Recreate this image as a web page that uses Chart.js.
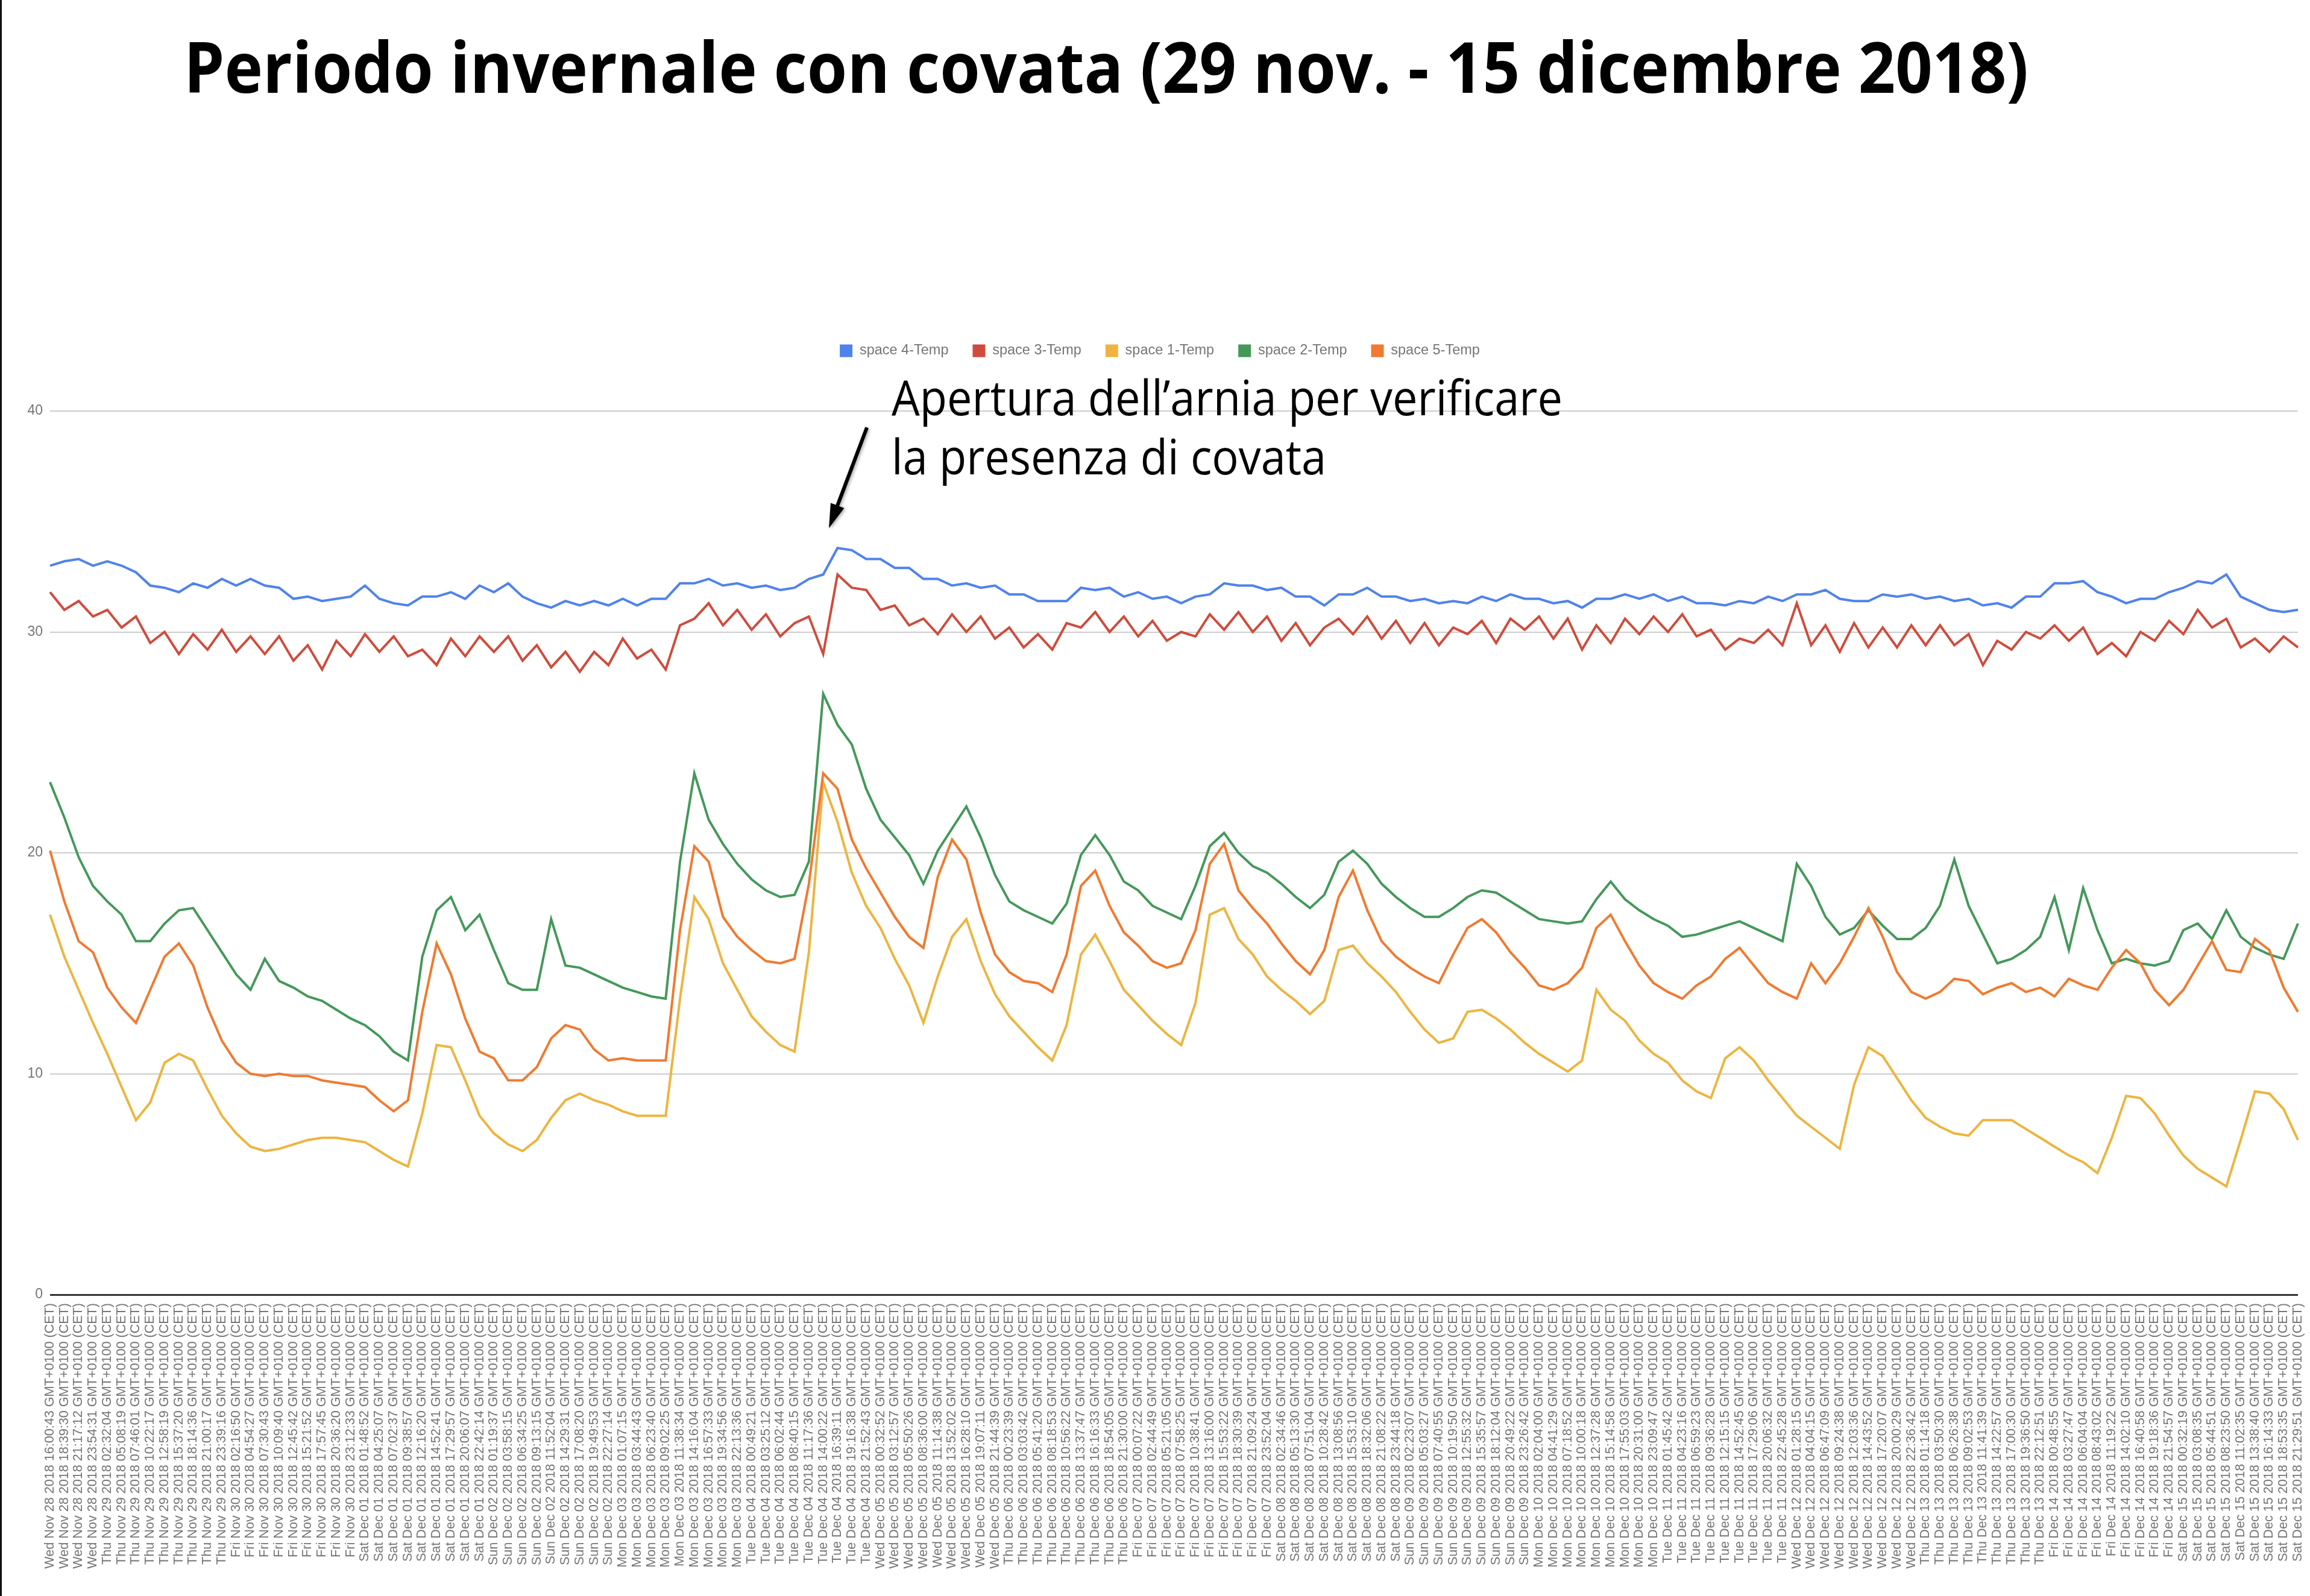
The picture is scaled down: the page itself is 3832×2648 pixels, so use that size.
<!DOCTYPE html>
<html>
<head>
<meta charset="utf-8">
<title>Periodo invernale con covata</title>
<script src="https://cdn.jsdelivr.net/npm/chart.js@4.4.1/dist/chart.umd.min.js"></script>
<style>
  html, body { margin: 0; padding: 0; background: #fff; }
  #wrap { width: 3832px; height: 2648px; }
</style>
</head>
<body>
<div id="wrap"><canvas id="chart" width="3832" height="2648"></canvas></div>
<script>
// sample times shown under the x axis (one per point)
const stamps = [
  'Wed Nov 28 16:00:43','Wed Nov 28 18:39:30','Wed Nov 28 21:17:12','Wed Nov 28 23:54:31',
  'Thu Nov 29 02:32:04','Thu Nov 29 05:08:19','Thu Nov 29 07:46:01','Thu Nov 29 10:22:17','Thu Nov 29 12:58:19','Thu Nov 29 15:37:20','Thu Nov 29 18:14:36','Thu Nov 29 21:00:17','Thu Nov 29 23:39:16',
  'Fri Nov 30 02:16:50','Fri Nov 30 04:54:27','Fri Nov 30 07:30:43','Fri Nov 30 10:09:40','Fri Nov 30 12:45:42','Fri Nov 30 15:21:52','Fri Nov 30 17:57:45','Fri Nov 30 20:36:20','Fri Nov 30 23:12:33',
  'Sat Dec 01 01:48:52','Sat Dec 01 04:25:07','Sat Dec 01 07:02:37','Sat Dec 01 09:38:57','Sat Dec 01 12:16:20','Sat Dec 01 14:52:41','Sat Dec 01 17:29:57','Sat Dec 01 20:06:07','Sat Dec 01 22:42:14',
  'Sun Dec 02 01:19:37','Sun Dec 02 03:58:15','Sun Dec 02 06:34:25','Sun Dec 02 09:13:15','Sun Dec 02 11:52:04','Sun Dec 02 14:29:31','Sun Dec 02 17:08:20','Sun Dec 02 19:49:53','Sun Dec 02 22:27:14',
  'Mon Dec 03 01:07:15','Mon Dec 03 03:44:43','Mon Dec 03 06:23:40','Mon Dec 03 09:02:25','Mon Dec 03 11:38:34','Mon Dec 03 14:16:04','Mon Dec 03 16:57:33','Mon Dec 03 19:34:56','Mon Dec 03 22:13:36',
  'Tue Dec 04 00:49:21','Tue Dec 04 03:25:12','Tue Dec 04 06:02:44','Tue Dec 04 08:40:15','Tue Dec 04 11:17:36','Tue Dec 04 14:00:22','Tue Dec 04 16:39:11','Tue Dec 04 19:16:38','Tue Dec 04 21:52:43',
  'Wed Dec 05 00:32:52','Wed Dec 05 03:12:57','Wed Dec 05 05:50:26','Wed Dec 05 08:36:00','Wed Dec 05 11:14:38','Wed Dec 05 13:52:02','Wed Dec 05 16:28:10','Wed Dec 05 19:07:11','Wed Dec 05 21:44:39',
  'Thu Dec 06 00:23:39','Thu Dec 06 03:03:42','Thu Dec 06 05:41:20','Thu Dec 06 08:18:53','Thu Dec 06 10:56:22','Thu Dec 06 13:37:47','Thu Dec 06 16:16:33','Thu Dec 06 18:54:05','Thu Dec 06 21:30:00',
  'Fri Dec 07 00:07:22','Fri Dec 07 02:44:49','Fri Dec 07 05:21:05','Fri Dec 07 07:58:25','Fri Dec 07 10:38:41','Fri Dec 07 13:16:00','Fri Dec 07 15:53:22','Fri Dec 07 18:30:39','Fri Dec 07 21:09:24','Fri Dec 07 23:52:04',
  'Sat Dec 08 02:34:46','Sat Dec 08 05:13:30','Sat Dec 08 07:51:04','Sat Dec 08 10:28:42','Sat Dec 08 13:08:56','Sat Dec 08 15:53:10','Sat Dec 08 18:32:06','Sat Dec 08 21:08:22','Sat Dec 08 23:44:18',
  'Sun Dec 09 02:23:07','Sun Dec 09 05:03:27','Sun Dec 09 07:40:55','Sun Dec 09 10:19:50','Sun Dec 09 12:55:32','Sun Dec 09 15:35:57','Sun Dec 09 18:12:04','Sun Dec 09 20:49:22','Sun Dec 09 23:26:42',
  'Mon Dec 10 02:04:00','Mon Dec 10 04:41:29','Mon Dec 10 07:18:52','Mon Dec 10 10:00:18','Mon Dec 10 12:37:28','Mon Dec 10 15:14:58','Mon Dec 10 17:55:03','Mon Dec 10 20:31:00','Mon Dec 10 23:09:47',
  'Tue Dec 11 01:45:42','Tue Dec 11 04:23:16','Tue Dec 11 06:59:23','Tue Dec 11 09:36:28','Tue Dec 11 12:15:15','Tue Dec 11 14:52:45','Tue Dec 11 17:29:06','Tue Dec 11 20:06:32','Tue Dec 11 22:45:28',
  'Wed Dec 12 01:28:15','Wed Dec 12 04:04:15','Wed Dec 12 06:47:09','Wed Dec 12 09:24:38','Wed Dec 12 12:03:36','Wed Dec 12 14:43:52','Wed Dec 12 17:20:07','Wed Dec 12 20:00:29','Wed Dec 12 22:36:42',
  'Thu Dec 13 01:14:18','Thu Dec 13 03:50:30','Thu Dec 13 06:26:38','Thu Dec 13 09:02:53','Thu Dec 13 11:41:39','Thu Dec 13 14:22:57','Thu Dec 13 17:00:30','Thu Dec 13 19:36:50','Thu Dec 13 22:12:51',
  'Fri Dec 14 00:48:55','Fri Dec 14 03:27:47','Fri Dec 14 06:04:04','Fri Dec 14 08:43:02','Fri Dec 14 11:19:22','Fri Dec 14 14:02:10','Fri Dec 14 16:40:58','Fri Dec 14 19:18:36','Fri Dec 14 21:54:57',
  'Sat Dec 15 00:32:19','Sat Dec 15 03:08:35','Sat Dec 15 05:44:51','Sat Dec 15 08:23:50','Sat Dec 15 11:02:35','Sat Dec 15 13:38:40','Sat Dec 15 16:14:33','Sat Dec 15 18:53:35','Sat Dec 15 21:29:51'
];

const space4 = [
  33.0,33.2,33.3,33.0,33.2,33.0,32.7,32.1,32.0,31.8,
  32.2,32.0,32.4,32.1,32.4,32.1,32.0,31.5,31.6,31.4,
  31.5,31.6,32.1,31.5,31.3,31.2,31.6,31.6,31.8,31.5,
  32.1,31.8,32.2,31.6,31.3,31.1,31.4,31.2,31.4,31.2,
  31.5,31.2,31.5,31.5,32.2,32.2,32.4,32.1,32.2,32.0,
  32.1,31.9,32.0,32.4,32.6,33.8,33.7,33.3,33.3,32.9,
  32.9,32.4,32.4,32.1,32.2,32.0,32.1,31.7,31.7,31.4,
  31.4,31.4,32.0,31.9,32.0,31.6,31.8,31.5,31.6,31.3,
  31.6,31.7,32.2,32.1,32.1,31.9,32.0,31.6,31.6,31.2,
  31.7,31.7,32.0,31.6,31.6,31.4,31.5,31.3,31.4,31.3,
  31.6,31.4,31.7,31.5,31.5,31.3,31.4,31.1,31.5,31.5,
  31.7,31.5,31.7,31.4,31.6,31.3,31.3,31.2,31.4,31.3,
  31.6,31.4,31.7,31.7,31.9,31.5,31.4,31.4,31.7,31.6,
  31.7,31.5,31.6,31.4,31.5,31.2,31.3,31.1,31.6,31.6,
  32.2,32.2,32.3,31.8,31.6,31.3,31.5,31.5,31.8,32.0,
  32.3,32.2,32.6,31.6,31.3,31.0,30.9,31.0
];

const space3 = [
  31.8,31.0,31.4,30.7,31.0,30.2,30.7,29.5,30.0,29.0,
  29.9,29.2,30.1,29.1,29.8,29.0,29.8,28.7,29.4,28.3,
  29.6,28.9,29.9,29.1,29.8,28.9,29.2,28.5,29.7,28.9,
  29.8,29.1,29.8,28.7,29.4,28.4,29.1,28.2,29.1,28.5,
  29.7,28.8,29.2,28.3,30.3,30.6,31.3,30.3,31.0,30.1,
  30.8,29.8,30.4,30.7,29.0,32.6,32.0,31.9,31.0,31.2,
  30.3,30.6,29.9,30.8,30.0,30.7,29.7,30.2,29.3,29.9,
  29.2,30.4,30.2,30.9,30.0,30.7,29.8,30.5,29.6,30.0,
  29.8,30.8,30.1,30.9,30.0,30.7,29.6,30.4,29.4,30.2,
  30.6,29.9,30.7,29.7,30.5,29.5,30.4,29.4,30.2,29.9,
  30.5,29.5,30.6,30.1,30.7,29.7,30.6,29.2,30.3,29.5,
  30.6,29.9,30.7,30.0,30.8,29.8,30.1,29.2,29.7,29.5,
  30.1,29.4,31.3,29.4,30.3,29.1,30.4,29.3,30.2,29.3,
  30.3,29.4,30.3,29.4,29.9,28.5,29.6,29.2,30.0,29.7,
  30.3,29.6,30.2,29.0,29.5,28.9,30.0,29.6,30.5,29.9,
  31.0,30.2,30.6,29.3,29.7,29.1,29.8,29.3
];

const space1 = [
  17.2,15.3,13.8,12.3,10.9,9.4,7.9,8.7,10.5,10.9,
  10.6,9.3,8.1,7.3,6.7,6.5,6.6,6.8,7.0,7.1,
  7.1,7.0,6.9,6.5,6.1,5.8,8.2,11.3,11.2,9.7,
  8.1,7.3,6.8,6.5,7.0,8.0,8.8,9.1,8.8,8.6,
  8.3,8.1,8.1,8.1,13.4,18.0,17.0,15.0,13.8,12.6,
  11.9,11.3,11.0,15.5,23.2,21.4,19.1,17.6,16.6,15.2,
  14.0,12.3,14.4,16.2,17.0,15.1,13.6,12.6,11.9,11.2,
  10.6,12.2,15.4,16.3,15.1,13.8,13.1,12.4,11.8,11.3,
  13.2,17.2,17.5,16.1,15.4,14.4,13.8,13.3,12.7,13.3,
  15.6,15.8,15.0,14.4,13.7,12.8,12.0,11.4,11.6,12.8,
  12.9,12.5,12.0,11.4,10.9,10.5,10.1,10.6,13.8,12.9,
  12.4,11.5,10.9,10.5,9.7,9.2,8.9,10.7,11.2,10.6,
  9.7,8.9,8.1,7.6,7.1,6.6,9.5,11.2,10.8,9.8,
  8.8,8.0,7.6,7.3,7.2,7.9,7.9,7.9,7.5,7.1,
  6.7,6.3,6.0,5.5,7.1,9.0,8.9,8.2,7.2,6.3,
  5.7,5.3,4.9,7.0,9.2,9.1,8.4,7.0
];

const space2 = [
  23.2,21.6,19.8,18.5,17.8,17.2,16.0,16.0,16.8,17.4,
  17.5,16.5,15.5,14.5,13.8,15.2,14.2,13.9,13.5,13.3,
  12.9,12.5,12.2,11.7,11.0,10.6,15.3,17.4,18.0,16.5,
  17.2,15.6,14.1,13.8,13.8,17.0,14.9,14.8,14.5,14.2,
  13.9,13.7,13.5,13.4,19.6,23.6,21.5,20.4,19.5,18.8,
  18.3,18.0,18.1,19.6,27.2,25.8,24.9,22.9,21.5,20.7,
  19.9,18.6,20.1,21.1,22.1,20.7,19.0,17.8,17.4,17.1,
  16.8,17.7,19.9,20.8,19.9,18.7,18.3,17.6,17.3,17.0,
  18.5,20.3,20.9,20.0,19.4,19.1,18.6,18.0,17.5,18.1,
  19.6,20.1,19.5,18.6,18.0,17.5,17.1,17.1,17.5,18.0,
  18.3,18.2,17.8,17.4,17.0,16.9,16.8,16.9,17.9,18.7,
  17.9,17.4,17.0,16.7,16.2,16.3,16.5,16.7,16.9,16.6,
  16.3,16.0,19.5,18.5,17.1,16.3,16.6,17.4,16.7,16.1,
  16.1,16.6,17.6,19.7,17.6,16.3,15.0,15.2,15.6,16.2,
  18.0,15.6,18.4,16.5,15.0,15.2,15.0,14.9,15.1,16.5,
  16.8,16.1,17.4,16.2,15.7,15.4,15.2,16.8
];

const space5 = [
  20.1,17.8,16.0,15.5,13.9,13.0,12.3,13.8,15.3,15.9,
  14.9,13.0,11.5,10.5,10.0,9.9,10.0,9.9,9.9,9.7,
  9.6,9.5,9.4,8.8,8.3,8.8,12.8,15.9,14.5,12.5,
  11.0,10.7,9.7,9.7,10.3,11.6,12.2,12.0,11.1,10.6,
  10.7,10.6,10.6,10.6,16.5,20.3,19.6,17.1,16.2,15.6,
  15.1,15.0,15.2,18.6,23.6,22.9,20.6,19.3,18.2,17.1,
  16.2,15.7,18.9,20.6,19.7,17.3,15.4,14.6,14.2,14.1,
  13.7,15.4,18.5,19.2,17.6,16.4,15.8,15.1,14.8,15.0,
  16.5,19.5,20.4,18.3,17.5,16.8,15.9,15.1,14.5,15.6,
  18.0,19.2,17.4,16.0,15.3,14.8,14.4,14.1,15.4,16.6,
  17.0,16.4,15.5,14.8,14.0,13.8,14.1,14.8,16.6,17.2,
  16.0,14.9,14.1,13.7,13.4,14.0,14.4,15.2,15.7,14.9,
  14.1,13.7,13.4,15.0,14.1,15.0,16.2,17.5,16.2,14.6,
  13.7,13.4,13.7,14.3,14.2,13.6,13.9,14.1,13.7,13.9,
  13.5,14.3,14.0,13.8,14.8,15.6,15.0,13.8,13.1,13.8,
  14.9,16.0,14.7,14.6,16.1,15.6,13.9,12.8
];

const seriesNames = ['space 4-Temp', 'space 3-Temp', 'space 1-Temp', 'space 2-Temp', 'space 5-Temp'];
const seriesData = [space4, space3, space1, space2, space5];
const seriesColors = ['#4f83eb', '#cf4b3c', '#edb53f', '#44985a', '#ef7a30'];
const yTicks = [0, 10, 20, 30, 40];

const chartTitle = 'Periodo invernale con covata (29 nov. - 15 dicembre 2018)';
const noteLines = ['Apertura dell\u2019arnia per verificare', 'la presenza di covata'];

const labels = stamps.map(s => s.slice(0, 10) + ' 2018 ' + s.slice(11) + ' GMT+0100 (CET)');
const gray = '#757575';

Chart.defaults.font.family = '"Liberation Sans", Arial, sans-serif';

// draw text squeezed horizontally to a given width (the original uses a narrow font)
function squeezed(ctx, text, x, y, font, width) {
  ctx.save();
  ctx.font = font;
  const k = width / ctx.measureText(text).width;
  ctx.translate(x, y);
  ctx.scale(k, 1);
  ctx.fillText(text, 0, 0);
  ctx.restore();
  return k;
}

const overlay = {
  id: 'overlay',
  afterInit(chart) {
    // legend sits higher than the plot: give it extra room below
    const legend = chart.legend;
    const fit = legend.fit;
    legend.fit = function () { fit.call(this); this.height = 151.75; };
  },
  beforeDraw(chart) {
    const ctx = chart.ctx;
    ctx.save();
    ctx.fillStyle = '#fff';
    ctx.fillRect(0, 0, chart.width, chart.height);
    ctx.restore();
  },
  afterDraw(chart) {
    const ctx = chart.ctx;
    const x = chart.scales.x, y = chart.scales.y;
    ctx.save();
    ctx.fillStyle = '#111';
    ctx.fillRect(0, 0, 3, chart.height);

    ctx.fillStyle = '#000';
    ctx.textBaseline = 'alphabetic';
    squeezed(ctx, chartTitle, 305, 154, 'bold 116px "Open Sans"', 3060);

    ctx.save();
    ctx.font = '80px "Open Sans"';
    const k = 1113 / ctx.measureText(noteLines[0]).width;
    ctx.translate(1479, 689);
    ctx.scale(k, 1);
    ctx.fillText(noteLines[0], 0, 0);
    ctx.fillText(noteLines[1], 0, 98);
    ctx.restore();

    // arrow pointing at the opening of the hive
    const tx = x.getPixelForValue(54.4), ty = y.getPixelForValue(34.7);
    const sx = tx + 63, sy = ty - 167;
    const ang = Math.atan2(ty - sy, tx - sx);
    const hl = 40, hw = 12;
    const bx = tx - hl * Math.cos(ang), by = ty - hl * Math.sin(ang);
    ctx.shadowColor = 'rgba(0,0,0,0.35)';
    ctx.shadowBlur = 5;
    ctx.shadowOffsetX = 2;
    ctx.shadowOffsetY = 2;
    ctx.strokeStyle = '#000';
    ctx.lineWidth = 6;
    ctx.beginPath();
    ctx.moveTo(sx, sy);
    ctx.lineTo(bx, by);
    ctx.stroke();
    ctx.beginPath();
    ctx.moveTo(tx, ty);
    ctx.lineTo(bx + hw * Math.sin(ang), by - hw * Math.cos(ang));
    ctx.lineTo(bx - hw * Math.sin(ang), by + hw * Math.cos(ang));
    ctx.closePath();
    ctx.fill();
    ctx.restore();
  }
};

new Chart(document.getElementById('chart'), {
  type: 'line',
  data: {
    labels: labels,
    datasets: seriesData.map((d, i) => ({
      label: seriesNames[i],
      data: d,
      borderColor: seriesColors[i],
      backgroundColor: seriesColors[i],
      borderWidth: 4,
      pointRadius: 0,
      tension: 0,
      fill: false,
      order: seriesData.length - i
    }))
  },
  options: {
    responsive: false,
    animation: false,
    devicePixelRatio: 1,
    events: [],
    layout: { padding: { top: 530.25, left: 36, right: 20, bottom: 0 } },
    plugins: {
      tooltip: { enabled: false },
      title: { display: false },
      legend: {
        position: 'top',
        labels: {
          boxWidth: 21,
          boxHeight: 21,
          padding: 40,
          color: gray,
          font: { size: 23.5 },
          sort: (a, b) => a.datasetIndex - b.datasetIndex,
          generateLabels: chart => Chart.defaults.plugins.legend.labels.generateLabels(chart)
            .map(item => Object.assign(item, { lineWidth: 0 }))
        }
      }
    },
    scales: {
      x: {
        type: 'category',
        offset: false,
        grid: { display: false, drawTicks: false },
        border: { display: false },
        ticks: {
          autoSkip: false,
          minRotation: 90,
          maxRotation: 90,
          padding: 14,
          color: gray,
          font: { size: 21.6 }
        },
        afterFit: s => { s.height = 500; s.paddingLeft = 0; s.paddingRight = 0; }
      },
      y: {
        min: 0,
        max: 40,
        afterBuildTicks: s => { s.ticks = yTicks.map(v => ({ value: v })); },
        grid: {
          drawTicks: false,
          color: c => c.tick.value === 0 ? '#333333' : '#cccccc',
          lineWidth: c => c.tick.value === 0 ? 3 : 2
        },
        border: { display: false },
        ticks: { padding: 12, color: gray, font: { size: 23 } },
        afterFit: s => { s.width = 47; }
      }
    }
  },
  plugins: [overlay]
});
</script>
</body>
</html>
